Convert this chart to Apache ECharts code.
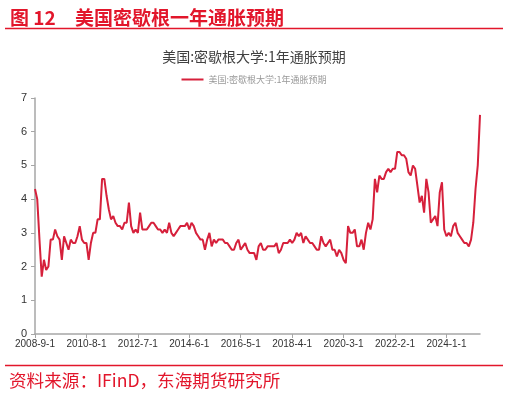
<!DOCTYPE html>
<html>
<head>
<meta charset="utf-8">
<script src="https://cdn.jsdelivr.net/npm/echarts@6/dist/echarts.min.js"></script>
<style>
html,body{margin:0;padding:0;background:#fff;}
#c{width:508px;height:395px;}
</style>
</head>
<body>
<div id="c"></div>
<script>
// Month categories: 2008-9-1 .. 2025-4-1
const startYear = 2008, startMonth = 9, monthCount = 200;
const categories = [];
for (let i = 0; i < monthCount; i++) {
  const m = startMonth - 1 + i;
  categories.push((startYear + Math.floor(m / 12)) + '-' + (m % 12 + 1) + '-1');
}
// University of Michigan 1-year inflation expectation (%)
const expectation = [
  4.3, 4.0, 2.8, 1.7,
  2.2, 1.9, 2.0, 2.8, 2.8, 3.1, 2.9, 2.8, 2.2, 2.9, 2.7, 2.5,
  2.8, 2.7, 2.7, 2.9, 3.2, 2.8, 2.7, 2.7, 2.2, 2.7, 3.0, 3.0,
  3.4, 3.4, 4.6, 4.6, 4.1, 3.7, 3.4, 3.5, 3.3, 3.2, 3.2, 3.1,
  3.3, 3.3, 3.9, 3.2, 3.0, 3.1, 3.0, 3.6, 3.1, 3.1, 3.1, 3.2,
  3.3, 3.3, 3.2, 3.1, 3.1, 3.0, 3.1, 3.0, 3.3, 3.0, 2.9, 3.0,
  3.1, 3.2, 3.2, 3.2, 3.3, 3.1, 3.3, 3.2, 3.0, 2.9, 2.8, 2.8,
  2.5, 2.8, 3.0, 2.6, 2.8, 2.7, 2.8, 2.8, 2.8, 2.7, 2.7, 2.6,
  2.5, 2.5, 2.7, 2.8, 2.5, 2.6, 2.7, 2.5, 2.4, 2.4, 2.4, 2.2,
  2.6, 2.7, 2.5, 2.5, 2.6, 2.6, 2.6, 2.6, 2.7, 2.4, 2.5, 2.7,
  2.7, 2.7, 2.8, 2.7, 2.8, 3.0, 2.9, 3.0, 2.7, 2.9, 2.8, 2.7,
  2.7, 2.6, 2.5, 2.5, 2.9, 2.7, 2.6, 2.7, 2.8, 2.5, 2.5, 2.3,
  2.5, 2.4, 2.2, 2.1, 3.2, 3.0, 3.0, 3.1, 2.6, 2.6, 2.8, 2.5,
  3.0, 3.3, 3.1, 3.4, 4.6, 4.2, 4.7, 4.6, 4.6, 4.8, 4.9, 4.8,
  4.9, 4.9, 5.4, 5.4, 5.3, 5.3, 5.2, 4.8, 4.7, 5.0, 4.9, 4.4,
  3.9, 4.1, 3.6, 4.6, 4.2, 3.3, 3.4, 3.5, 3.2, 4.2, 4.5, 3.1,
  2.9, 3.0, 2.9, 3.2, 3.3, 3.0, 2.9, 2.8, 2.7, 2.7, 2.6, 2.8,
  3.3, 4.3, 5.0, 6.5
];
const seriesName = '美国:密歇根大学:1年通胀预期';
const figureNo = '图 12';
const figureTitle = '美国密歇根一年通胀预期';
const sourceText = '资料来源：IFinD，东海期货研究所';
const yTicks = [0, 1, 2, 3, 4, 5, 6, 7];

const RED = '#e2162b';
const LINE = '#d6203b';
const chart = echarts.init(document.getElementById('c'), null, {renderer: 'canvas'});
const titleStyle = {color: RED, fontSize: 19, fontWeight: 'bold', fontFamily: 'Noto Sans CJK SC'};
chart.setOption({
  animation: false,
  backgroundColor: '#fff',
  title: [
    {text: figureNo, left: 5, top: 3, textStyle: titleStyle},
    {text: figureTitle, left: 70, top: 3, textStyle: titleStyle},
    {text: seriesName, left: 'center', top: 45,
     textStyle: {color: '#404040', fontSize: 14, fontWeight: 'normal', fontFamily: 'Noto Sans CJK SC'}},
    {text: sourceText, left: 4, top: 367,
     textStyle: {color: RED, fontSize: 17.6, fontWeight: 'normal', fontFamily: 'Noto Sans CJK SC'}}
  ],
  graphic: [
    {type: 'line', shape: {x1: 5, y1: 28.5, x2: 503, y2: 28.5}, style: {stroke: RED, lineWidth: 1.5}},
    {type: 'line', shape: {x1: 5, y1: 365.5, x2: 503, y2: 365.5}, style: {stroke: RED, lineWidth: 1.5}}
  ],
  legend: {
    top: 70, left: 'center',
    icon: 'rect', itemWidth: 22, itemHeight: 2, itemGap: 4,
    textStyle: {color: '#999', fontSize: 9, fontFamily: 'Noto Sans CJK SC'},
    data: [seriesName]
  },
  grid: {left: 35, right: 28, top: 98, bottom: 61, containLabel: false},
  xAxis: {
    type: 'category', data: categories, boundaryGap: false,
    axisLine: {lineStyle: {color: '#a6a6a6', width: 1.5}},
    axisTick: {interval: 22, length: 4, lineStyle: {color: '#a6a6a6'}},
    axisLabel: {interval: 22, color: '#333', fontSize: 10, margin: 5, fontFamily: 'Liberation Sans'},
    splitLine: {show: false}
  },
  yAxis: {
    type: 'value', min: yTicks[0], max: yTicks[yTicks.length - 1], interval: 1,
    axisLine: {show: true, lineStyle: {color: '#a6a6a6', width: 1.5}},
    axisTick: {show: true, length: 4, lineStyle: {color: '#a6a6a6'}},
    axisLabel: {color: '#333', fontSize: 11, margin: 8, fontFamily: 'Liberation Sans'},
    splitLine: {show: false}
  },
  series: [{
    name: seriesName, type: 'line', data: expectation,
    showSymbol: false, symbol: 'none',
    lineStyle: {color: LINE, width: 2},
    itemStyle: {color: LINE}
  }]
});
</script>
</body>
</html>
